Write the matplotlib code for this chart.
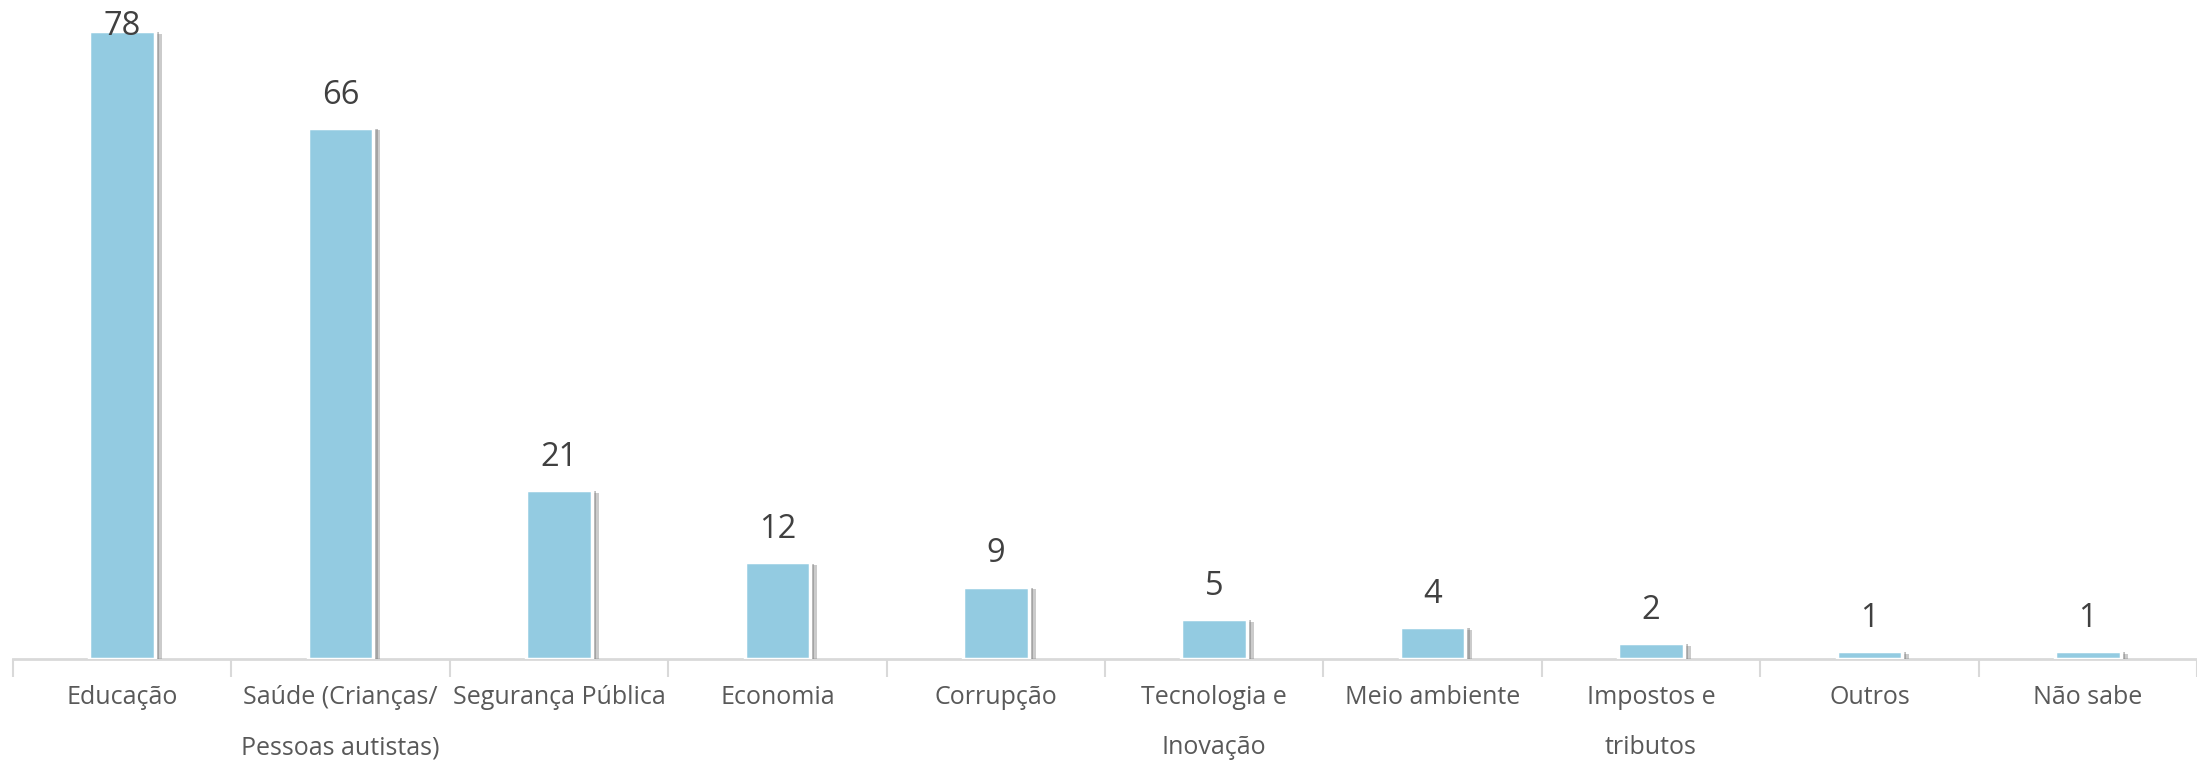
import matplotlib
matplotlib.use("Agg")
import matplotlib.pyplot as plt
import matplotlib.patheffects as pe
import numpy as np

categories = ["Educação", "Saúde (Crianças/\nPessoas autistas)", "Segurança Pública",
              "Economia", "Corrupção", "Tecnologia e\nInovação", "Meio ambiente",
              "Impostos e\ntributos", "Outros", "Não sabe"]
values = [78, 66, 21, 12, 9, 5, 4, 2, 1, 1]

W, H = 2197, 762
fig = plt.figure(figsize=(W / 100, H / 100), dpi=100)
ax = fig.add_axes([13 / W, 1 - 659 / H, 1 - 13 / W, 659 / H])

x = np.arange(len(values))
ymax = 659 / 8.05
bars = ax.bar(x, values, width=0.3, color="#93CBE1", edgecolor="white", linewidth=2.5,
              zorder=3)
for b in bars:
    b.set_path_effects([pe.SimplePatchShadow(offset=(5, -2), shadow_rgbFace="#8c8c8c", alpha=0.45),
                        pe.SimplePatchShadow(offset=(3, -1), shadow_rgbFace="#7f7f7f", alpha=0.5),
                        pe.Normal()])

for xi, v in zip(x, values):
    ax.text(xi, min(v + 3.0, 77.5), str(v), ha="center", va="baseline",
            fontsize=23.5, color="#404040", family="Open Sans")

ax.set_xlim(-0.5, len(values) - 0.5)
ax.set_ylim(0, ymax)
ax.set_yticks([])
for s in ["top", "right", "left"]:
    ax.spines[s].set_visible(False)
ax.spines["bottom"].set_color("#d9d9d9")
ax.spines["bottom"].set_linewidth(2)

ax.set_xticks(x)
ax.set_xticklabels(categories, fontsize=18, color="#595959", family="Open Sans",
                   linespacing=2.3, va="top")
ax.tick_params(axis="x", which="major", length=0, pad=19)
ax.set_xticks(np.arange(len(values) + 1) - 0.5, minor=True)
ax.tick_params(axis="x", which="minor", length=13, width=1.5, color="#d9d9d9")

fig.savefig("out.png", dpi=100, facecolor="white")
